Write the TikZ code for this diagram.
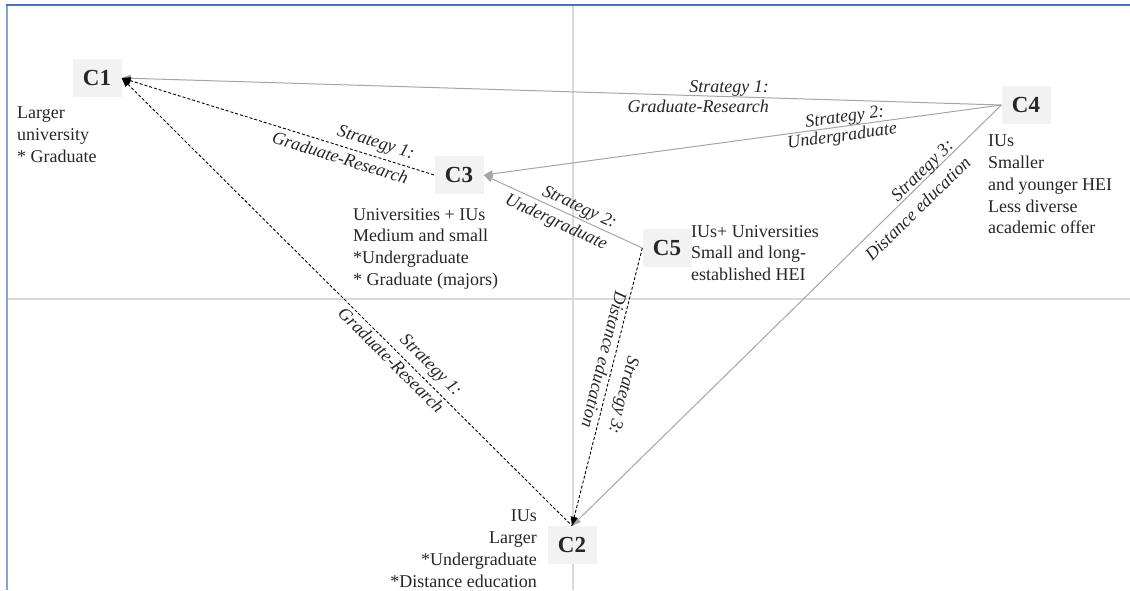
\documentclass[tikz,border=0pt]{standalone}
\usepackage{fontspec}
\setmainfont{Liberation Serif}
\usetikzlibrary{arrows.meta}
\definecolor{frameblue}{RGB}{74,114,184}
\definecolor{frameside}{RGB}{135,162,212}
\definecolor{axisgray}{RGB}{217,217,217}
\definecolor{boxgray}{RGB}{242,242,242}
\definecolor{linegray}{RGB}{165,165,165}
\definecolor{txt}{RGB}{38,38,38}
\tikzset{
  cluster/.style={fill=boxgray, minimum width=49pt, minimum height=38pt, inner sep=0pt,
    font=\fontsize{23}{27}\selectfont\bfseries, text=txt},
  note/.style={align=left, inner sep=0pt, font=\fontsize{18}{21.7}\selectfont, text=txt},
  strat/.style={font=\fontsize{18}{21.7}\selectfont\itshape, text=txt, inner sep=1.5pt},
  solidlink/.style={draw=linegray, line width=1pt},
  dashlink/.style={draw=black, line width=0.9pt, dash pattern=on 3pt off 2pt},
}
\begin{document}
\begin{tikzpicture}[x=1pt, y=-1pt, line join=round, >={Triangle[length=9pt,width=7pt]}]
  \useasboundingbox (0,0) rectangle (1130,590);
  % axes and frame
  \draw[axisgray, line width=1.5pt] (573,5) -- (573,590);
  \draw[axisgray, line width=1.5pt] (7,299) -- (1130,299);
  \draw[frameside, line width=2pt] (7,5) -- (7,590);
  \draw[frameblue, line width=2pt] (6,5) -- (1130,5);

  % clusters
  \node[cluster] (c1) at (97,78) {C1};
  \node[cluster] (c2) at (572,545) {C2};
  \node[cluster] (c3) at (459,175) {C3};
  \node[cluster] (c4) at (1026,105) {C4};
  \node[cluster] (c5) at (667,248) {C5};

  % descriptions
  \node[note, anchor=north west] (d1) at (17,107) {Larger\\university\\* Graduate};
  \node[note, anchor=north west] (d3) at (353,208) {Universities + IUs\\Medium and small\\*Undergraduate\\* Graduate  (majors)};
  \node[note, anchor=north west] (d4) at (988,135) {IUs\\Smaller\\and younger  HEI\\Less diverse\\academic  offer};
  \node[note, anchor=north west] (d5) at (691,225) {IUs+ Universities\\Small and long-\\established HEI};
  \node[note, anchor=north east, align=right] (d2) at (537,510) {IUs\\Larger\\*Undergraduate\\*Distance education};

  % strategies from C4
  \draw[solidlink, <-] (c1.east) -- (c4.west)
    node[strat, pos=0.738, anchor=south east] {Strategy 1:}
    node[strat, pos=0.738, anchor=north east] {Graduate-Research};
  \draw[solidlink, <-] (c3.east) -- (c4.west)
    node[strat, pos=0.70, sloped, above=-2pt] {Strategy 2:}
    node[strat, pos=0.69, sloped, below] {Undergraduate};
  \draw[solidlink, <-] (c2.north) -- (c4.west)
    node[strat, pos=0.83, sloped, above=-3pt] {Strategy 3:}
    node[strat, pos=0.78, sloped, below=7pt] {Distance education};

  % strategies from C3, C2 and C5
  \draw[dashlink, <-] (c1.east) -- (c3.west)
    node[strat, pos=0.80, sloped, above=3pt] {Strategy 1:}
    node[strat, pos=0.71, sloped, below=3pt] {Graduate-Research};
  \draw[dashlink, <-] (c1.east) -- (c2.north)
    node[strat, pos=0.664, sloped, above=3.5pt] {Strategy 1:}
    node[strat, pos=0.614, sloped, below=1.5pt] {Graduate-Research};
  \draw[solidlink, <-] (c3.east) -- (c5.west)
    node[strat, pos=0.576, sloped, above] {Strategy 2:}
    node[strat, pos=0.49, sloped, below=3pt] {Undergraduate};
  \draw[dashlink, ->] (c5.west) -- (c2.north)
    node[strat, pos=0.515, sloped, allow upside down, above=7pt] {Strategy 3:}
    node[strat, pos=0.41, sloped, allow upside down, below=1pt] {Distance education};
\end{tikzpicture}
\end{document}
